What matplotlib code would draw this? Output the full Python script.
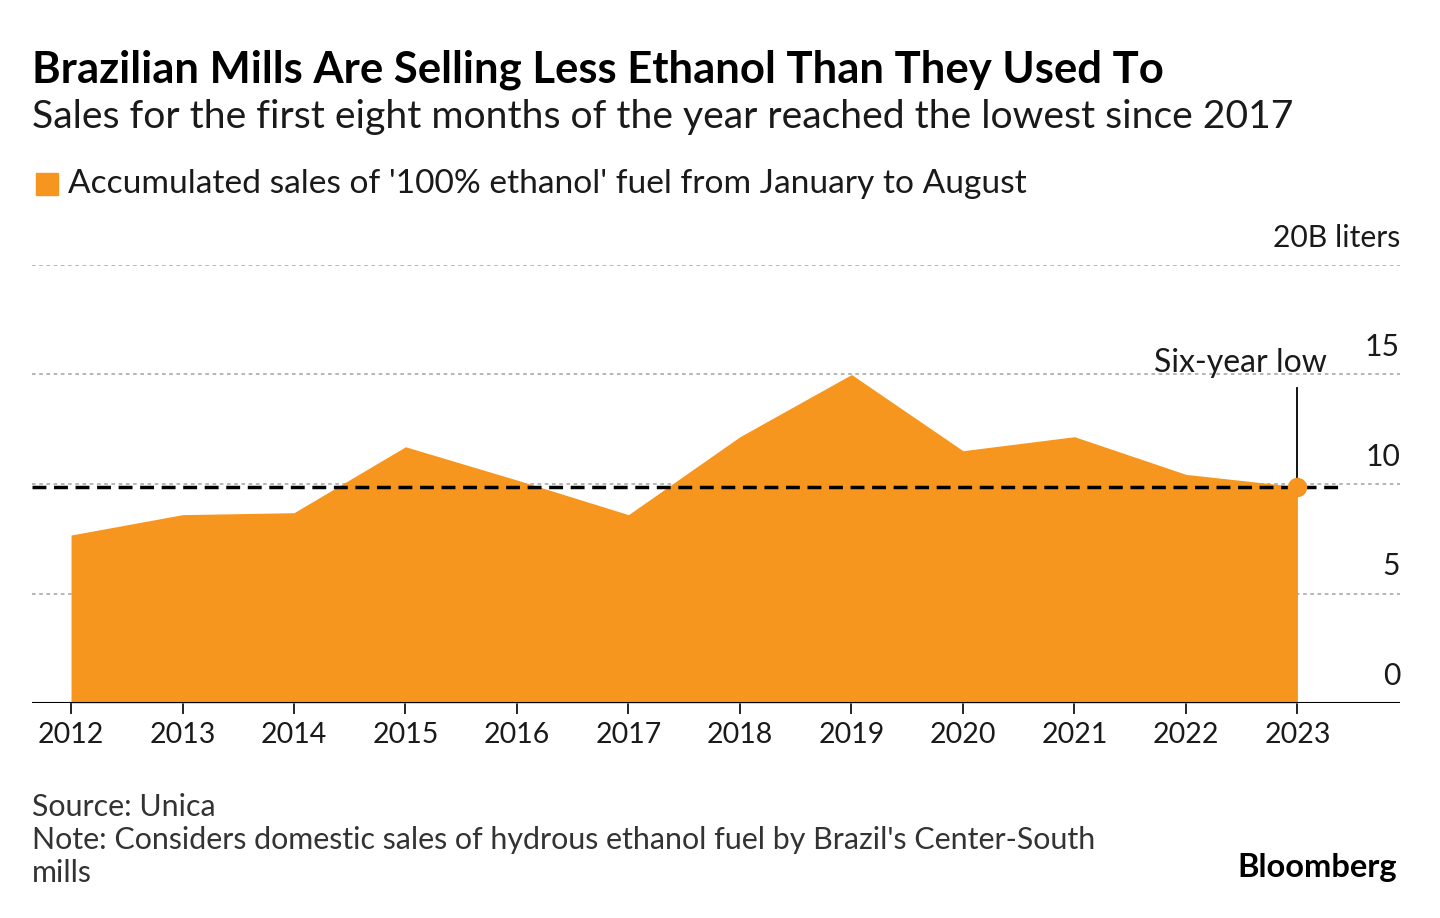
import matplotlib.pyplot as plt
from matplotlib.transforms import blended_transform_factory

# Data (billion liters, Jan-Aug sales)
years = [2012, 2013, 2014, 2015, 2016, 2017, 2018, 2019, 2020, 2021, 2022, 2023]
sales = [7.67, 8.6, 8.69, 11.7, 10.18, 8.6, 12.16, 15.0, 11.52, 12.16, 10.44, 9.88]
y_ticks = [0, 5, 10, 15, 20]
y_tick_labels = ['0', '5', '10', '15', '20B liters']
low_level = 9.88

orange = '#F7961E'
plt.rcParams['font.family'] = ['Lato', 'DejaVu Sans']

fig = plt.figure(figsize=(14.4, 9.18), dpi=100)
ax = fig.add_axes([32 / 1440, 1 - 703 / 918, (1400 - 32) / 1440, (703 - 265) / 918])

# gridlines under the area
for v in y_ticks[1:]:
    ax.axhline(v, color='#b0b0b0', linestyle=(0, (2, 2)), linewidth=1.3, zorder=1)

ax.fill_between(years, sales, 0, color=orange, linewidth=0, zorder=2)
ax.axhline(0, color='black', linewidth=1.5, zorder=3)

# six-year low reference line and marker
ax.plot([2011.65, 2023.36], [low_level, low_level], color='black',
        linestyle=(0, (4, 2.2)), linewidth=2.5, zorder=4)
ax.plot([years[-1]], [sales[-1]], 'o', color=orange, markersize=13, zorder=5)
ax.plot([years[-1], years[-1]], [sales[-1], 14.4], color='black', linewidth=1.3, zorder=4)
ax.text(years[-1] + 0.26, 15.1, 'Six-year low', ha='right', va='baseline',
        fontsize=23, color='#1a1a1a', zorder=6)

ax.set_xlim(2011.65, 2023.92)
ax.set_ylim(0, 20)
ax.set_xticks(years)
ax.set_xticklabels([str(y) for y in years], fontsize=20.5, color='#1a1a1a')
ax.tick_params(axis='x', length=8, width=1.2, color='black', pad=6)
ax.set_yticks([])
for s in ax.spines.values():
    s.set_visible(False)

# y labels sitting above the gridlines at the right edge
tr = blended_transform_factory(ax.transAxes, ax.transData)
for v, lab in zip(y_ticks, y_tick_labels):
    ax.annotate(lab, xy=(1.0, v), xycoords=tr, xytext=(0, 13), textcoords='offset points',
                ha='right', va='baseline', fontsize=21.7, color='#1a1a1a')

# titles
fig.text(32 / 1440, 1 - 70 / 918, 'Brazilian Mills Are Selling Less Ethanol Than They Used To',
         fontsize=31.4, fontweight='bold', va='center', ha='left', color='black')
fig.text(32 / 1440, 1 - 117 / 918, 'Sales for the first eight months of the year reached the lowest since 2017',
         fontsize=28.2, va='center', ha='left', color='#1a1a1a')

# legend
fig.patches.append(plt.Rectangle((36 / 1440, 1 - 195 / 918), 22 / 1440, 22 / 918,
                                 transform=fig.transFigure, color=orange, figure=fig))
fig.text(68 / 1440, 1 - 184 / 918, "Accumulated sales of '100% ethanol' fuel from January to August",
         fontsize=24.1, va='center', ha='left', color='#1a1a1a')

# footer
fig.text(32 / 1440, 1 - 807 / 918, 'Source: Unica', fontsize=21.9, va='center', color='#333333')
fig.text(32 / 1440, 1 - 840 / 918, "Note: Considers domestic sales of hydrous ethanol fuel by Brazil's Center-South",
         fontsize=21.9, va='center', color='#333333')
fig.text(32 / 1440, 1 - 873 / 918, 'mills', fontsize=21.9, va='center', color='#333333')
fig.text(1397 / 1440, 1 - 867 / 918, 'Bloomberg', fontsize=23.5, fontweight='bold',
         va='center', ha='right', color='black')

fig.savefig('out.png', dpi=100, facecolor='white')
